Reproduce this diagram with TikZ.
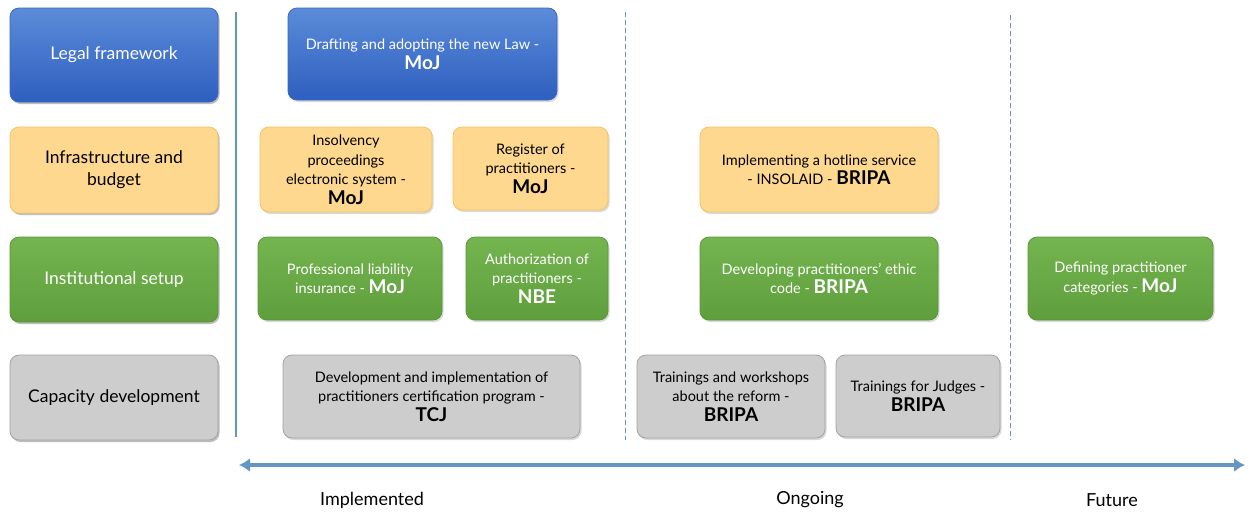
\documentclass[tikz,border=0pt]{standalone}
\usepackage{fontspec}
\setmainfont{Lato}
\usepackage{xcolor}
\usetikzlibrary{arrows.meta}
\usetikzlibrary{shadows}
\usetikzlibrary{positioning}

\definecolor{lawtop}{HTML}{5C8BD9}
\definecolor{lawbot}{HTML}{2E5FBF}
\definecolor{lawline}{HTML}{3A68C2}
\definecolor{infrafill}{HTML}{FDD88E}
\definecolor{infraline}{HTML}{F5C462}
\definecolor{insttop}{HTML}{74B550}
\definecolor{instbot}{HTML}{5E9E3C}
\definecolor{instline}{HTML}{5A963A}
\definecolor{capfill}{HTML}{CDCDCD}
\definecolor{capline}{HTML}{A2A2A2}
\definecolor{timeline}{HTML}{6595C2}

\newcommand{\agency}[1]{{\fontsize{19}{21}\selectfont\bfseries #1}}

\begin{document}
\begin{tikzpicture}[x=1pt,y=-1pt,
	box/.style={rounded corners=9pt, line width=0.8pt, align=center, inner sep=2pt,
		font=\fontsize{14.5}{19.5}\selectfont,
		drop shadow={opacity=0.3, shadow xshift=1.5pt, shadow yshift=-2pt}},
	rowbox/.style={box, minimum width=208pt, font=\fontsize{17.5}{22}\selectfont},
	lawbox/.style={box, draw=lawline, top color=lawtop, bottom color=lawbot, text=white},
	infrabox/.style={box, draw=infraline, fill=infrafill, text=black},
	instbox/.style={box, draw=instline, top color=insttop, bottom color=instbot, text=white},
	capbox/.style={box, draw=capline, fill=capfill, text=black},
	phase/.style={font=\fontsize{18}{22}\selectfont, text=black}]

	\useasboundingbox (0,0) rectangle (1249,512);

	% row headings
	\node[lawbox, rowbox, minimum height=94pt] (legal) at (114,55) {Legal framework};
	\node[infrabox, rowbox, minimum height=86pt] (infra) at (114,170) {Infrastructure and\\budget};
	\node[instbox, rowbox, minimum height=85pt] (inst) at (114,279.5) {Institutional setup};
	\node[capbox, rowbox, minimum height=85pt] (capdev) at (114,397.5) {Capacity development};

	% separators
	\draw[timeline, line width=2.5pt] (236,12) -- (236,437);
	\draw[timeline, dash pattern=on 5pt off 3pt, line width=0.9pt] (625,12) -- (625,440);
	\draw[timeline, dash pattern=on 5pt off 3pt, line width=0.9pt] (1010,15) -- (1010,440);

	% implemented
	\node[lawbox, minimum width=269pt, minimum height=92pt] (drafting) at (422.5,54) {Drafting and adopting the new Law -\\\agency{MoJ}};
	\node[infrabox, minimum width=172pt, minimum height=85pt] (insolv) at (346,169.5) {Insolvency\\proceedings\\electronic system -\\\agency{MoJ}};
	\node[infrabox, minimum width=155pt, minimum height=83pt] (register) at (530.5,168.5) {Register of\\practitioners -\\\agency{MoJ}};
	\node[instbox, minimum width=184pt, minimum height=83pt] (liability) at (350,278.5) {Professional liability\\insurance - \agency{MoJ}};
	\node[instbox, minimum width=142pt, minimum height=83pt] (authoriz) at (537,278.5) {Authorization of\\practitioners -\\\agency{NBE}};
	\node[capbox, minimum width=297pt, minimum height=83pt] (certif) at (431.5,396.5) {Development and implementation of\\practitioners certification program -\\\agency{TCJ}};

	% ongoing
	\node[infrabox, minimum width=238pt, minimum height=85pt] (hotline) at (819,169.5) {Implementing a hotline service\\- INSOLAID - \agency{BRIPA}};
	\node[instbox, minimum width=238pt, minimum height=83pt] (ethic) at (819,278.5) {Developing practitioners' ethic\\code - \agency{BRIPA}};
	\node[capbox, minimum width=188pt, minimum height=83pt] (workshops) at (731,396.5) {Trainings and workshops\\about the reform -\\\agency{BRIPA}};
	\node[capbox, minimum width=164pt, minimum height=82pt] (judges) at (918,396) {Trainings for Judges -\\\agency{BRIPA}};

	% future
	\node[instbox, minimum width=185pt, minimum height=83pt] (categories) at (1120.5,278.5) {Defining practitioner\\categories - \agency{MoJ}};

	% timeline
	\coordinate (tstart) at (239,465);
	\coordinate (tend) at (1245,465);
	\draw[timeline, line width=4.5pt, {Latex[length=11pt,width=14pt]}-{Latex[length=11pt,width=14pt]}] (tstart) -- (tend);
	\node[phase] (impl) at (372,500) {Implemented};
	\node[phase] (ongoing) at (810,500) {Ongoing};
	\node[phase] (future) at (1112,500) {Future};
\end{tikzpicture}
\end{document}
